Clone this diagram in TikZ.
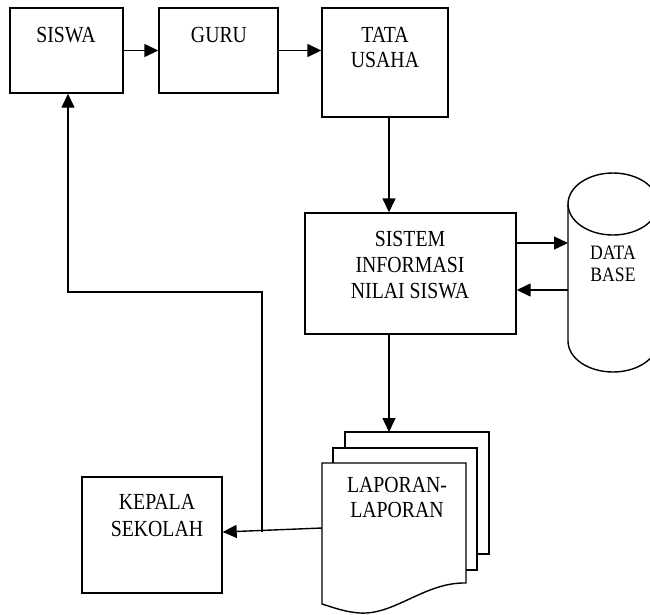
\documentclass[tikz,border=0pt]{standalone}
\usepackage{fontspec}
\setmainfont{Liberation Serif}[FakeStretch=0.86]
\usetikzlibrary{arrows.meta}
\begin{document}
\begin{tikzpicture}[x=1pt,y=-1pt, line width=1.4pt,
  box/.style={draw, rectangle, inner sep=0pt},
  arr/.style={-{Triangle[length=14pt,width=13pt]}},
  lbl/.style={anchor=base, inner sep=0pt, font=\fontsize{23}{25}\selectfont},
  slbl/.style={anchor=base, inner sep=0pt, font=\fontsize{20.5}{22}\selectfont}]
\useasboundingbox (0,0) rectangle (650,614);
% boxes
\node[box, minimum width=113pt, minimum height=85pt] (siswa) at (66.5,50.5) {};
\node[box, minimum width=119pt, minimum height=85pt] (guru) at (218.5,50.5) {};
\node[box, minimum width=126pt, minimum height=109pt] (tata) at (385,62.5) {};
\node[box, minimum width=211pt, minimum height=121pt] (sistem) at (410.5,273.5) {};
\node[box, minimum width=140pt, minimum height=116pt] (kepala) at (152,535) {};
% labels
\node[lbl] (t1) at (66,42) {SISWA};
\node[lbl] (t2) at (219,42) {GURU};
\node[lbl] (t3) at (385,42) {TATA};
\node[lbl] (t4) at (385,67) {USAHA};
\node[lbl] (t5) at (410,246) {SISTEM};
\node[lbl] (t6) at (410,272) {INFORMASI};
\node[lbl] (t7) at (410,298) {NILAI SISWA};
\node[lbl] (t8) at (157,509) {KEPALA};
\node[lbl] (t9) at (157,536) {SEKOLAH};
\node[lbl] (t10) at (397,492) {LAPORAN-};
\node[lbl] (t11) at (397,517) {LAPORAN};
\node[slbl] (t12) at (613,259) {DATA};
\node[slbl] (t13) at (613,281) {BASE};
% database cylinder
\draw (613,204) ellipse [x radius=45, y radius=31];
\draw (568,204) -- (568,341) arc[start angle=180, end angle=0, x radius=45, y radius=31] -- (658,204);
% report stack
\draw (345,448) -- (345,432) -- (489,432) -- (489,554) -- (477,554);
\draw (333,463) -- (333,448) -- (477,448) -- (477,570) -- (466,570);
\draw (322,463) -- (466,463) -- (466,583)
  .. controls (425,582) and (395,615) .. (360,613)
  .. controls (345,612) and (335,608) .. (322,604) -- cycle;
% coordinates
\coordinate (vx) at (389,0);
\coordinate (dbin) at (568,243);
\coordinate (dbout) at (568,290);
\coordinate (laptop) at (389,432);
\coordinate (lapw) at (322,528);
\coordinate (fb) at (262,532);
\coordinate (fbA) at (262,292);
\coordinate (fbB) at (68,292);
% connectors
\draw[arr] (siswa.east) -- (guru.west);
\draw[arr] (guru.east) -- (guru.east -| tata.west);
\draw[arr] (tata.south -| vx) -- (sistem.north -| vx);
\draw[arr] (sistem.east |- dbin) -- (dbin);
\draw[arr] (dbout) -- (sistem.east |- dbout);
\draw[arr] (sistem.south -| vx) -- (laptop);
\draw[arr] (lapw) -- ([yshift=3pt]kepala.east);
\draw[arr] (fb) -- (fbA) -- (fbB) -- (siswa.south -| fbB);
\end{tikzpicture}
\end{document}
